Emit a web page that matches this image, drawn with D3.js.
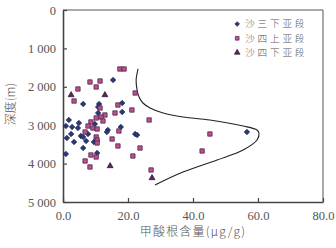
<!DOCTYPE html>
<html>
<head>
<meta charset="utf-8">
<script src="https://cdn.jsdelivr.net/npm/d3@7"></script>
<style>
  body { margin: 0; background: #fff; }
  text { fill: #555; }
</style>
</head>
<body>
<div id="chart"></div>
<script>
// series names
var seriesNames = ["沙三下亚段", "沙四上亚段", "沙四下亚段"];

// 沙三下亚段 (diamonds)
var s3xX = [15.4, 6.2, 11.1, 10.8, 18.2, 18.2, 10.8, 1.8, 4.9, 0.9, 2.8, 2.5, 1.2, 3.4, 5.5, 6.2, 7.1, 6.2, 7.7, 10.5, 0.9, 9.8, 13.8, 13.5, 17.8, 22.2, 22.8, 56.6, 4.6, 9.5];
var s3xD = [1823, 2448, 2448, 2526, 2422, 2656, 2682, 2864, 2943, 3021, 3047, 3229, 3333, 3437, 3281, 3307, 3411, 3594, 3229, 3724, 3750, 2969, 3125, 3177, 3047, 3229, 3255, 3177, 3073, 3437];

// 沙四上亚段 (squares)
var s4sX = [17.5, 18.8, 8.3, 11.4, 10.2, 4.6, 3.4, 22.2, 16.9, 11.4, 21.2, 16.0, 12.9, 11.7, 10.2, 12.3, 8.6, 26.5, 7.7, 9.2, 10.5, 6.8, 17.2, 10.2, 10.5, 10.5, 15.1, 16.9, 23.7, 8.6, 10.2, 21.5, 6.8, 8.3, 27.1, 45.2, 42.8];
var s4sD = [1536, 1536, 1875, 1849, 2005, 2057, 2370, 2161, 2474, 2552, 2604, 2682, 2734, 2786, 2812, 2890, 2916, 2864, 3021, 3073, 3099, 3177, 3151, 3307, 3385, 3463, 3359, 3541, 3594, 3776, 3828, 3802, 3932, 4088, 4166, 3229, 3672];

// 沙四下亚段 (triangles)
var s4xX = [2.5, 12.9, 14.5, 27.4];
var s4xD = [2213, 2213, 4062, 4375];

// envelope curve
var curveX = [23.1, 22.5, 22.8, 23.4, 24.6, 26.8, 30.8, 36.9, 45.2, 55.4, 59.7, 60.3, 59.7, 55.4, 47.4, 36.9, 28.3];
var curveD = [1536, 1823, 2083, 2266, 2422, 2552, 2682, 2786, 2864, 3021, 3125, 3203, 3385, 3646, 3906, 4219, 4557];

// tick labels
var xTicks = [0, 20, 40, 60, 80];
var yTicks = [0, 1000, 2000, 3000, 4000, 5000];

var margin = {top: 10, right: 13, bottom: 46, left: 63},
    width = 336 - margin.left - margin.right,
    height = 248 - margin.top - margin.bottom;

var x = d3.scaleLinear().domain([0, 80]).range([0, width]);
var y = d3.scaleLinear().domain([0, 5000]).range([0, height]);

var svg = d3.select("#chart").append("svg")
    .attr("width", 336)
    .attr("height", 248)
  .append("g")
    .attr("transform", "translate(" + margin.left + "," + margin.top + ")");

var serif = "'Liberation Serif', 'DejaVu Serif', serif";
var cjk = "'Noto Sans CJK SC', sans-serif";

// frame (top and right)
svg.append("path")
    .attr("d", "M0,0H" + width + "V" + height)
    .attr("fill", "none")
    .attr("stroke", "#555")
    .attr("stroke-width", 1);

// y axis
var yAxis = svg.append("g")
    .call(d3.axisLeft(y).tickValues(yTicks).tickSizeInner(-4).tickSizeOuter(0).tickPadding(7)
      .tickFormat(function(d) { return d3.format(",")(d).replace(",", " "); }));
yAxis.select(".domain").attr("stroke", "#444").attr("stroke-width", 1.6);
yAxis.selectAll(".tick line").attr("stroke", "#444").attr("stroke-width", 1.2);
yAxis.selectAll(".tick text").attr("font-family", serif).attr("font-size", 12.5).attr("fill", "#555");

// x axis
var xAxis = svg.append("g")
    .attr("transform", "translate(0," + height + ")")
    .call(d3.axisBottom(x).tickValues(xTicks).tickSizeInner(-4).tickSizeOuter(0).tickPadding(9)
      .tickFormat(d3.format(".1f")));
xAxis.select(".domain").attr("stroke", "#444").attr("stroke-width", 1.6);
xAxis.selectAll(".tick line").attr("stroke", "#444").attr("stroke-width", 1.2);
xAxis.selectAll(".tick text").attr("font-family", serif).attr("font-size", 12.5).attr("fill", "#555");

// curve
var line = d3.line()
    .x(function(d) { return x(d[0]); })
    .y(function(d) { return y(d[1]); })
    .curve(d3.curveCatmullRom);
svg.append("path")
    .datum(d3.zip(curveX, curveD))
    .attr("d", line)
    .attr("fill", "none")
    .attr("stroke", "#222")
    .attr("stroke-width", 1.1);

// symbols
var styles = [
  {type: d3.symbolDiamond2, size: 18, fill: "#2a3a78", stroke: "#1a2050"},
  {type: d3.symbolSquare, size: 19, fill: "#c24d8e", stroke: "#4a2a4a"},
  {type: d3.symbolTriangle, size: 15, fill: "#552a58", stroke: "#3a1a3a"}
];
var series = [d3.zip(s3xX, s3xD), d3.zip(s4sX, s4sD), d3.zip(s4xX, s4xD)];

series.forEach(function(data, i) {
  var st = styles[i];
  svg.selectAll(".pt" + i)
      .data(data)
    .enter().append("path")
      .attr("class", "pt" + i)
      .attr("transform", function(d) { return "translate(" + x(d[0]) + "," + y(d[1]) + ")"; })
      .attr("d", d3.symbol().type(st.type).size(st.size))
      .attr("fill", st.fill)
      .attr("stroke", st.stroke)
      .attr("stroke-width", 0.8);
});

// legend
var legend = svg.selectAll(".legend")
    .data(seriesNames)
  .enter().append("g")
    .attr("class", "legend")
    .attr("transform", function(d, i) { return "translate(" + (x(53.6)) + "," + (14 + i * 14.3) + ")"; });
legend.append("path")
    .attr("d", function(d, i) { return d3.symbol().type(styles[i].type).size(14)(); })
    .attr("fill", function(d, i) { return styles[i].fill; })
    .attr("stroke", function(d, i) { return styles[i].stroke; })
    .attr("stroke-width", 0.7);
legend.append("text")
    .attr("x", 8)
    .attr("dy", "0.36em")
    .attr("font-family", cjk)
    .attr("font-weight", 300)
    .attr("font-size", 9.6)
    .attr("letter-spacing", 2.8)
    .text(function(d) { return d; });

// axis titles
svg.append("text")
    .attr("transform", "translate(" + (-48) + "," + (height / 2 - 2) + ") rotate(-90)")
    .attr("text-anchor", "middle")
    .attr("font-family", cjk)
    .attr("font-weight", 300)
    .attr("font-size", 12)
    .text("深度(m)");

svg.append("text")
    .attr("x", width / 2)
    .attr("y", height + 34)
    .attr("text-anchor", "middle")
    .attr("font-family", cjk)
    .attr("font-weight", 300)
    .attr("font-size", 12)
    .attr("letter-spacing", 1.2)
    .text("甲酸根含量(μg/g)");
</script>
</body>
</html>
